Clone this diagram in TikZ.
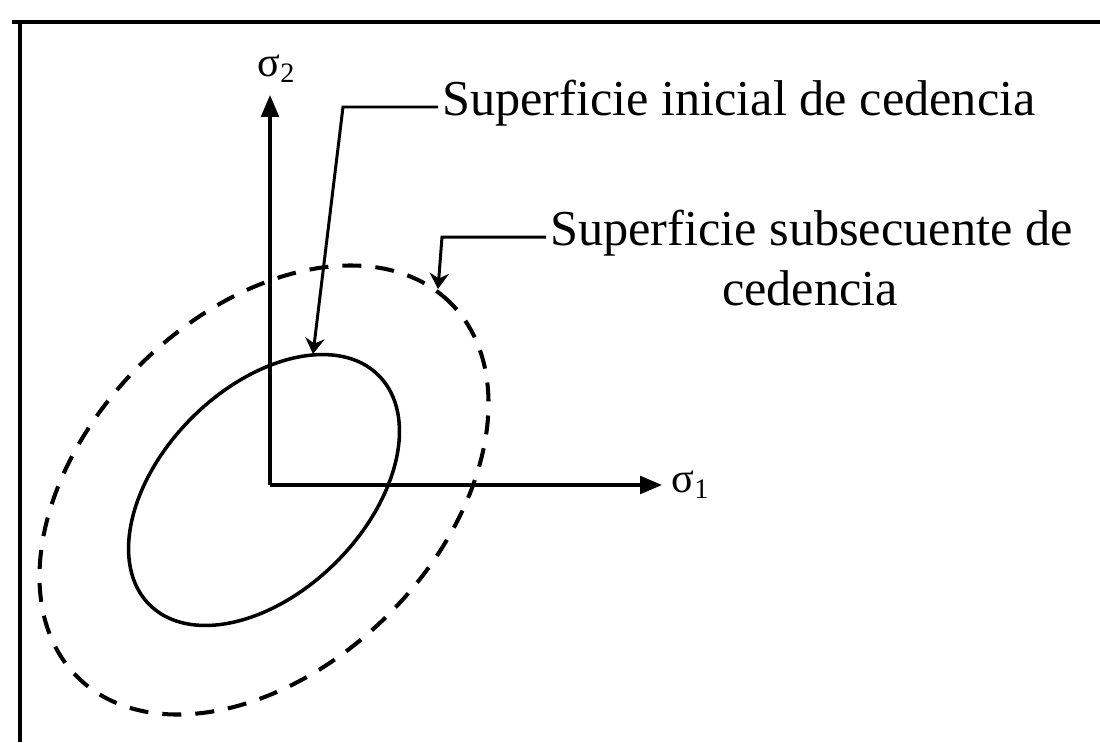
\documentclass[tikz,border=0pt]{standalone}
\usepackage{fontspec}
\setmainfont{Liberation Serif}
\usetikzlibrary{arrows.meta}

\begin{document}
\begin{tikzpicture}[
    x=0.01cm, y=-0.01cm,
    every node/.style={font=\fontsize{14.3}{17}\selectfont, inner sep=1pt},
    sigma/.style={font=\fontsize{12}{14}\selectfont, inner sep=0pt},
    axis/.style={line width=0.9pt, -{Triangle[length=6.2pt, width=5pt]}},
    leader/.style={line width=0.85pt, -{Stealth[length=4.5pt, width=5.5pt, inset=1.5pt]}},
    initial/.style={line width=1pt},
    later/.style={line width=1.15pt, dash pattern=on 5.4pt off 4pt}
]
\useasboundingbox (0,0) rectangle (1100,742);

% Frame (top and left edges only)
\draw[line width=1.4pt] (12,22) -- (1100,22);
\draw[line width=1.1pt] (20,22) -- (20,742);

% Yield surfaces
\coordinate (c) at (264,490);
\draw[initial, rotate around={45:(c)}] (c) ellipse [x radius=1.62cm, y radius=1.02cm];
\draw[later, rotate around={45:(c)}] (c) ellipse [x radius=2.64cm, y radius=1.76cm];

% Stress axes
\coordinate (O) at (270,485);
\coordinate (tipV) at (270,95);
\coordinate (tipH) at (662,485);
\draw[axis] (O) -- (tipV);
\draw[axis] (O) -- (tipH);
\node[sigma, anchor=base west] (sig2) at (257,76) {σ\textsubscript{2}};
\node[sigma, anchor=base west] (sig1) at (671,492) {σ\textsubscript{1}};

% Labels
\node[anchor=mid west] (inicial) at (438,107) {Superficie inicial de cedencia};
\node[anchor=mid west] (sub1) at (546,237) {Superficie subsecuente de};
\node[anchor=base] (sub2) at (810,305) {cedencia};

% Leaders
\coordinate (b1) at (343,107);
\coordinate (t1) at (313,354);
\coordinate (b2) at (442,237);
\coordinate (t2) at (438,289);
\draw[leader] (inicial.mid west) -- (b1) -- (t1);
\draw[leader] (sub1.mid west) -- (b2) -- (t2);

\end{tikzpicture}
\end{document}
